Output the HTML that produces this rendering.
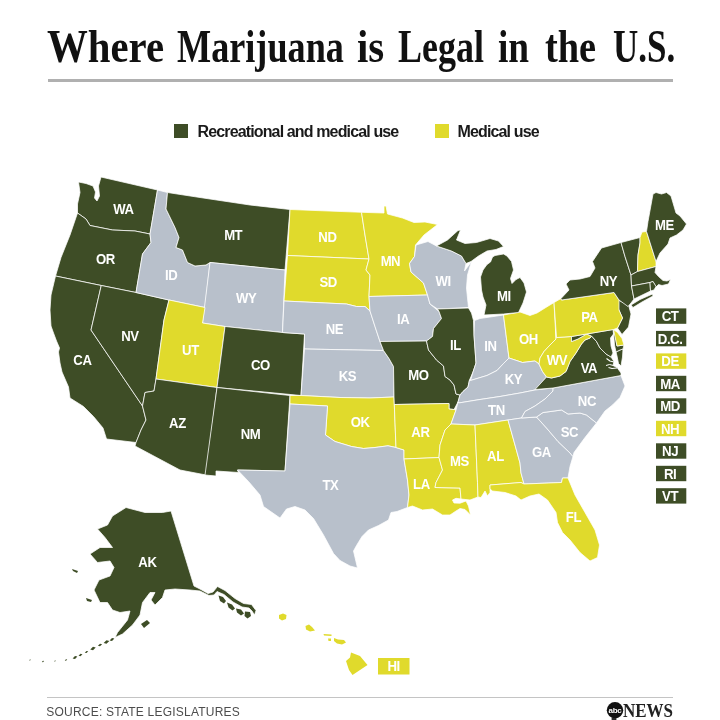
<!DOCTYPE html>
<html><head><meta charset="utf-8"><title>Where Marijuana is Legal in the U.S.</title>
<style>
html,body{margin:0;padding:0;background:#fff;}
body{width:720px;height:720px;position:relative;overflow:hidden;font-family:"Liberation Sans",sans-serif;}
h1{position:absolute;left:0;top:0;margin:0;width:720px;height:80px;font-family:"Liberation Serif",serif;font-weight:bold;font-size:47px;line-height:50px;color:#111;white-space:nowrap;}
h1 span{position:absolute;top:21px;display:block;transform-origin:0 0;}
.rule1{position:absolute;left:47.5px;top:79px;width:625.5px;height:2.6px;background:#b0b0b0;}
.rule2{position:absolute;left:47px;top:697px;width:626px;height:1px;background:#c4c4c4;}
.lg{position:absolute;top:122px;font-size:16px;line-height:19px;font-weight:bold;color:#1a1a1a;white-space:nowrap;letter-spacing:-0.86px;}
.sw{position:absolute;top:123.5px;width:14.5px;height:14.5px;}
.src{position:absolute;left:46.3px;top:704.8px;font-size:12px;line-height:15px;color:#4d4d4d;white-space:nowrap;letter-spacing:0.22px;}
.logo{position:absolute;}
svg{position:absolute;left:0;top:0;}
svg text{font-family:"Liberation Sans",sans-serif;font-weight:bold;fill:#fff;text-anchor:middle;}
</style></head><body>
<h1><span style="left:47.0px;transform:scaleX(0.868)">Where</span> <span style="left:177.0px;transform:scaleX(0.770)">Marijuana</span> <span style="left:356.9px;transform:scaleX(0.868)">is</span> <span style="left:398.0px;transform:scaleX(0.766)">Legal</span> <span style="left:497.9px;transform:scaleX(0.794)">in</span> <span style="left:545.0px;transform:scaleX(0.816)">the</span> <span style="left:612.9px;transform:scaleX(0.744)">U.S.</span></h1>
<div class="rule1"></div>
<div class="sw" style="left:173.5px;background:#3e4d26"></div><div class="lg" style="left:197.5px">Recreational and medical use</div>
<div class="sw" style="left:434.5px;background:#e0da2c"></div><div class="lg" style="left:457.5px">Medical use</div>

<svg width="720" height="720" viewBox="0 0 720 720">
<g stroke="#fff" stroke-width="0.75" stroke-linejoin="round">
<polygon fill="#3e4d26" points="78.5,182 86,183.5 93,186 95.5,192 94.5,198 97,201 99.5,196 98.5,186 101,177 157.5,190 150,234 135,231 112.5,230 90,225.5 86,219 77.5,213 77.5,204 80,192.5"/>
<polygon fill="#3e4d26" points="77.5,213 86,219 90,225.5 112.5,230 135,231 150,234 151,242.5 142.5,254 136,292.5 101.25,285.5 55.5,276 61,257.5 70,235"/>
<polygon fill="#3e4d26" points="55.5,276 101.25,285.5 91,330 142.5,406 146,420 141,430 136,442.5 106.5,439 103,428 93.5,416.5 83.5,406.5 70,398 68.5,387 62,372 60,363 58.5,352 59.5,348 56.5,341 53.5,333 51,326 50,310 51,295"/>
<polygon fill="#3e4d26" points="101.25,285.5 136,292.5 169,300 164,320 156,379 154,391 145,392.5 142.5,406 91,330"/>
<polygon fill="#b8c0cb" points="157.5,190 167.5,192.5 166,209 175,227.5 179,237.5 176,247.5 182.5,250 187.5,262.5 195,266 206,265 210,262.5 205,307.5 169,300 136,292.5 142.5,254 151,242.5 150,234"/>
<polygon fill="#3e4d26" points="167.5,192.5 200,197.5 250,205 290,209.5 285,270 210,262.5 206,265 195,266 187.5,262.5 182.5,250 176,247.5 179,237.5 175,227.5 166,209"/>
<polygon fill="#b8c0cb" points="210,262.5 285,270 282.5,332.5 225,326.5 202.5,323"/>
<polygon fill="#e0da2c" points="169,300 205,307.5 202.5,323 225,326.5 217,387.5 156,379 164,320"/>
<polygon fill="#3e4d26" points="225,326.5 282.5,332.5 304.5,334 301,395.5 217,387.5"/>
<polygon fill="#3e4d26" points="156,379 217,387.5 206,475 180,470 135,446 136,442.5 141,430 146,420 142.5,406 145,392.5 154,391"/>
<polygon fill="#3e4d26" points="217,387.5 290,395.5 285,471 237.5,470 238.5,472.5 216,471 216,476 205,475"/>
<polygon fill="#e0da2c" points="290,209.5 361.5,212.3 365,235 369,259 287.5,255.5"/>
<polygon fill="#e0da2c" points="287.5,255.5 369,259 366,270 370,275 369,296.5 370,311 365,306.5 356.5,306.5 346.5,304 284,301"/>
<polygon fill="#b8c0cb" points="284,301 346.5,304 356.5,306.5 365,306.5 370,311 375,326.5 380,341.5 383.5,350.5 304.5,349 304.5,334 282.5,332.5"/>
<polygon fill="#b8c0cb" points="304.5,349 383.5,350.5 389,358.5 393.5,366.5 394,397 370,398 340,397.5 301,395.5"/>
<polygon fill="#e0da2c" points="290,395.5 301,395.5 340,397.5 370,398 394,397 394.3,404.5 396,447.5 388,445.8 375,447.5 363.5,448.5 351.5,446.5 335,441.5 325.5,435 327.5,406 290,404"/>
<polygon fill="#b8c0cb" points="290,404 327.5,406 325.5,435 335,441.5 351.5,446.5 363.5,448.5 375,447.5 388,445.8 396,447.5 404,450 404,459 407.5,480 409,495 407.5,507.5 397,511.5 391,512.5 388.5,520 378.5,525.5 368.5,530 362,536.5 356.5,545.5 353.5,551 357.5,568 350,566 340,560.5 333.5,553.5 323.5,535 313.5,518.5 305,510 295,506.5 286.5,509 280,518 263.5,506.5 260,495 248.5,481.5 237.5,470 285,471"/>
<polygon fill="#e0da2c" points="361.5,212.3 384,213 384,206 386,206 387.5,214 402.5,218 414,222.5 425,222 437.5,224.5 424,235 415.5,245 414.5,256.5 409.5,263.5 411,272 423.5,283 427.5,295 369,296.5 370,275 366,270 369,259 365,235"/>
<polygon fill="#b8c0cb" points="369,296.5 427.5,295 430,304 439,311.5 441.5,318.5 433.5,328.5 432.5,336.5 426.5,341 380,341.5 375,326.5 370,311"/>
<polygon fill="#3e4d26" points="380,341.5 426.5,341 428.5,350 436.5,360 443.5,366 445,376.5 450,380 454,385 456,394 460,395 458,402 454,409.5 449,409 449,403.5 394.3,404.5 394,397 393.5,366.5 389,358.5 383.5,350.5"/>
<polygon fill="#e0da2c" points="394.3,404.5 449,403.5 449,409 454,409.5 456,410 451,424 445,430 440,445 439,457.5 404,459 404,450 396,447.5"/>
<polygon fill="#e0da2c" points="404,459 439,457.5 442.5,470 436,482.5 435,487.5 460,488 461,499 456,498.3 452.5,500 454,503 460,503.2 466,501 468.5,506 470.5,515 465,509.5 460,508.5 456,511 450,515 442.5,515 432.5,509 422.5,510 412.5,506 407.5,507.5 409,495 407.5,480"/>
<polygon fill="#b8c0cb" points="416,245 428,241.5 436.5,246 451.5,251 461.5,256 466,263.5 464.5,271 471.5,261.5 467.5,275 466.5,288 467.5,298 468.5,307.5 437.5,309 430,304 427.5,295 423.5,283 411,272 409.5,263.5 414.5,256.5"/>
<polygon fill="#3e4d26" points="437.5,309 468.5,308 471.5,313 473.5,320.5 474,335 476,363 473,372 469.5,380 468,387 463,391.5 460,395 456,394 454,385 450,380 445,376.5 443.5,366 436.5,360 428.5,350 426.5,341 432.5,336.5 433.5,328.5 441.5,318.5 439,311.5"/>
<polygon fill="#b8c0cb" points="474.5,320.5 480,318.5 503.5,315 509,358 503.5,363.5 497,370.5 487,375.5 470.5,380.5 473,372 476,363 474,335"/>
<polygon fill="#e0da2c" points="503.5,315 520,312 530,315.5 537,313 545,308 554,302.5 556,339 550,345 544,351.5 540,358 539,364 535,361 522.5,362.5 509,358"/>
<polygon fill="#3e4d26" points="436.5,246 447.5,240 458,230.5 460.5,230 456.5,240 465,243.5 476.5,242.5 490,238.5 498.5,241 503.5,246.5 496,249.5 487,251 478.5,256 471,261.5 466,263.5 461.5,256 451.5,251"/>
<polygon fill="#3e4d26" points="495,255.5 503.5,254 507,256 511.5,261.5 513.5,270 510.5,278.5 512,283.5 516,279.5 520,277.5 524,283 526.5,292 523,303 518.5,312.5 503.5,314 484,315 486,305 483,297 481.5,290 480.5,277 483,270 487,264.5 490.5,262 492.5,257"/>
<polygon fill="#b8c0cb" points="460,395 463,391.5 468,387 469.5,380 470.5,380.5 487,375.5 497,370.5 503.5,363.5 509,358 522.5,362.5 535,361 539,364 542.5,371.5 546.5,377 535,390 520,393 500,396.5 480,399.5 458.5,403 458,402"/>
<polygon fill="#b8c0cb" points="458.5,403 480,399.5 500,396.5 520,393 535,390 553,388 553,391 545,399 535,406 525,411.5 521.5,418 508,420 475,425 451,424 456,410 458,402"/>
<polygon fill="#e0da2c" points="451,424 475,425 477.5,482.5 478,497 470,500 461,499 460,488 435,487.5 436,482.5 442.5,470 439,457.5 440,445 445,430"/>
<polygon fill="#e0da2c" points="475,425 508,420 515,445 520,463 521,473 524,484 521,482.5 490,485 490,492.5 487.5,496 485,491 481,497.5 478,497 477.5,482.5"/>
<polygon fill="#b8c0cb" points="508,420 521.5,418 536.5,417 546.5,428 558,441.5 570,453 573,456.5 570,466.5 568,478 562.5,478 561.5,482.5 524,484 521,473 520,463 515,445"/>
<polygon fill="#e0da2c" points="490,485 521,482.5 524,484 561.5,482.5 562.5,478 568,478 575,495 585,512.5 595,530 599.5,545 597.5,557.5 590,561 580,552.5 570,540 562.5,532.5 557.5,522.5 556,512.5 547.5,500 539,494 530,496 521,500 516,496 505,492.5 492.5,491 490,489"/>
<polygon fill="#b8c0cb" points="536.5,417 543,412.5 561.5,410 568,414 580,413 586.5,415 596.5,423 585,437.5 574,452.5 573,456.5 570,453 558,441.5 546.5,428"/>
<polygon fill="#b8c0cb" points="553,388 621,375.5 625,386 620,397.5 612.5,405 605,411 596.5,423 586.5,415 580,413 568,414 561.5,410 543,412.5 536.5,417 521.5,418 525,411.5 535,406 545,399 553,391"/>
<polygon fill="#3e4d26" points="535,389.5 546.5,377 551.5,378 560,376 566,371.5 570,361.5 576,353 581.5,344 585,340 590,338 591.5,336 596.5,341.5 600,348 606,354 611,357 614,361.5 613,365.5 617,367.5 621,373 621,375.5 553,388"/>
<polygon fill="#3e4d26" points="616,352 620,350 623,349 622.5,357 621,366 618.5,363.5 617,356"/>
<polygon fill="#e0da2c" points="556,329 556,339 550,345 544,351.5 540,358 539,364 542.5,371.5 546.5,377 551.5,378 560,376 566,371.5 570,361.5 576,353 581.5,344 585,340 590,338 591.5,336 586.5,334 578,339 571.5,341.5 571.5,336.5 556.5,337.5"/>
<polygon fill="#3e4d26" points="571.5,336.5 613,329.5 613.5,334 610.5,338 611,346 613,353 611,357 606,354 600,348 596.5,341.5 591.5,336 586.5,334 578,339 571.5,341.5"/>
<polygon fill="#3e4d26" points="614.5,331 617,346 624,345 623,349 620,350 616,352 614.5,345 613.8,336"/>
<polygon fill="#e0da2c" points="613.5,329.5 617.5,332.5 622,338.5 624,345 617,346"/>
<polygon fill="#3e4d26" points="618,300 628.5,305 631,314 628.5,327 622,334.5 617.5,328 622.5,318 618.5,309"/>
<polygon fill="#e0da2c" points="556.5,337.5 554,302.5 561,298.5 561.5,300 614,292.5 619,300 619,310 622.5,318 617.5,328 613.5,329.5 571.5,336.5"/>
<polygon fill="#3e4d26" points="561.5,300 561,298.5 569,290 566,284 570,280 580,279 590,276.5 595,268 592.5,261.5 601.5,248 621,242.5 625,256.5 631,275 631.5,286 634,299 631,303 628,306.5 619,300 614,292.5"/>
<polygon fill="#3e4d26" points="631,305 640,299.5 652.5,294 653,296 642,302 633,307.5"/>
<polygon fill="#3e4d26" points="621,242.5 640,237.5 640,243 638,255 637.5,271.5 631,275 625,256.5"/>
<polygon fill="#e0da2c" points="642,232 646.5,231.5 656,261.5 656,266.5 637.5,271.5 638,255 640,243 640,237.5"/>
<polygon fill="#3e4d26" points="646.5,231.5 648,221.5 651,205 653,194 656,192.5 661.5,194 666.5,192.5 671,196 676,213 680,216 686.5,224 683,230 676.5,235 670,238 668,244 660,253 656,261.5"/>
<polygon fill="#3e4d26" points="631,275 637.5,271.5 656,266.5 655,272.5 658.5,276.5 663,280.5 667,281 670.5,279.5 668.5,284 662,285.5 658.5,284.5 656,287 653,281.5 650,282.5 631.5,286"/>
<polygon fill="#3e4d26" points="631.5,286 650,282.5 650.5,291 634,299"/>
<polygon fill="#3e4d26" points="650,282.5 653,281.5 656,286.5 654,290 650.5,291"/>
<polygon fill="#3e4d26" points="126,507.5 145,512.5 162.5,512.5 171,511 194,586 200,589 208,593.5 213,592 217.5,586.5 225,590.5 235,598.5 243.5,603.5 251.5,604.5 256,610.5 254.5,615 252,611 249,608 242,607 233,602 224,594.5 217,591.5 214,595 209,595.5 200,591 190,590 175,589 165,590 162.5,597.5 155,605 151,600 155,592.5 150,592.5 142.5,602.5 140,615 132.5,625 122.5,634 115,637.5 117.5,632.5 127.5,620 130,611 120,612.5 112.5,610 107.5,602.5 100,602.5 94,590 99,580 110,576 114,567.5 110,561 97.5,562.5 90,554 100,547.5 112.5,547.5 105,537.5 97.5,529 107.5,525 112.5,516"/>
<polyline points="614,362 610,361 606.5,358.5" fill="none" stroke-width="1.1"/><polyline points="613.5,365.5 609.5,364.5 606,365.5" fill="none" stroke-width="1"/><polyline points="617,368 612,368.5 608.5,367.5" fill="none" stroke-width="1.1"/>
</g><g>
<polygon fill="#3e4d26" points="72,569 78,571 77,573 73,571"/>
<polygon fill="#3e4d26" points="86,598 92,600 91,602 87,601"/>
<polygon fill="#3e4d26" points="141,624 147,620 150,623 144,628"/>
<polygon fill="#3e4d26" points="218.5,595.5 223,597 226,601 224,603.5 220,601"/>
<polygon fill="#3e4d26" points="227,602.5 232,604.5 235,608.5 232.5,610.5 228.5,607.5"/>
<polygon fill="#3e4d26" points="236,608.5 241,609.5 244,613.5 241,615.5 237,612.5"/>
<polygon fill="#3e4d26" points="245,611.5 250,612 251,616 247.5,618.5 244.5,616"/>
<polygon fill="#3e4d26" points="109.6,640.4 112,638.0 114.4,638.6 112,641.0"/>
<polygon fill="#3e4d26" points="103.62,643.08 106.5,640.2 109.38,640.92 106.5,643.8"/>
<polygon fill="#3e4d26" points="97.92,645.78 100,643.7 102.08,644.22 100,646.3"/>
<polygon fill="#3e4d26" points="90.28,649.52 93,646.8 95.72,647.48 93,650.2"/>
<polygon fill="#3e4d26" points="84.74,652.66 86.5,650.9 88.26,651.34 86.5,653.1"/>
<polygon fill="#3e4d26" points="78.58,655.72 80.5,653.8 82.42,654.28 80.5,656.2"/>
<polygon fill="#3e4d26" points="72.6,658.4 75,656.0 77.4,656.6 75,659.0"/>
<polygon fill="#3e4d26" points="64.72,660.48 66,659.2 67.28,659.52 66,660.8"/>
<polygon fill="#3e4d26" points="54.04,661.36 55,660.4 55.96,660.64 55,661.6"/>
<polygon fill="#3e4d26" points="41.88,661.92 43,660.8 44.12,661.08 43,662.2"/>
<polygon fill="#3e4d26" points="29.04,660.36 30,659.4 30.96,659.64 30,660.6"/>
<polygon fill="#e0da2c" points="279,615 283,613.5 286.5,615 286,619 282,620.5 279,618.5"/>
<polygon fill="#e0da2c" points="305.5,626 309,624.5 312,627 315,630.5 310,631.5 306,629.5"/>
<polygon fill="#e0da2c" points="323.5,634 331.5,634.5 331.5,636 324,635.5"/>
<polygon fill="#e0da2c" points="328,638.5 331,638.5 331,641 328.5,641"/>
<polygon fill="#e0da2c" points="334,638 338,639.5 344,640 346,642.5 342,644.5 337,643.5 334,641"/>
<polygon fill="#e0da2c" points="351,652.5 360,656 367.5,665 360,670 352.5,675 349,670 346,661 350,657.5"/>
</g>
<g font-size="14" letter-spacing="-0.5">
<text transform="translate(123.40,213.5) scale(0.94,1)">WA</text>
<text transform="translate(105.40,264.0) scale(0.94,1)">OR</text>
<text transform="translate(82.40,364.5) scale(0.94,1)">CA</text>
<text transform="translate(129.90,340.5) scale(0.94,1)">NV</text>
<text transform="translate(171.15,280.0) scale(0.94,1)">ID</text>
<text transform="translate(233.15,240.0) scale(0.94,1)">MT</text>
<text transform="translate(246.15,302.5) scale(0.94,1)">WY</text>
<text transform="translate(190.40,355.0) scale(0.94,1)">UT</text>
<text transform="translate(260.40,369.5) scale(0.94,1)">CO</text>
<text transform="translate(177.40,428.0) scale(0.94,1)">AZ</text>
<text transform="translate(250.40,439.0) scale(0.94,1)">NM</text>
<text transform="translate(327.40,241.5) scale(0.94,1)">ND</text>
<text transform="translate(328.15,287.0) scale(0.94,1)">SD</text>
<text transform="translate(334.40,333.5) scale(0.94,1)">NE</text>
<text transform="translate(347.40,381.0) scale(0.94,1)">KS</text>
<text transform="translate(360.15,427.0) scale(0.94,1)">OK</text>
<text transform="translate(330.40,490.0) scale(0.94,1)">TX</text>
<text transform="translate(390.40,266.0) scale(0.94,1)">MN</text>
<text transform="translate(403.15,323.5) scale(0.94,1)">IA</text>
<text transform="translate(418.40,380.0) scale(0.94,1)">MO</text>
<text transform="translate(420.40,437.0) scale(0.94,1)">AR</text>
<text transform="translate(421.40,489.0) scale(0.94,1)">LA</text>
<text transform="translate(443.15,285.5) scale(0.94,1)">WI</text>
<text transform="translate(455.40,350.0) scale(0.94,1)">IL</text>
<text transform="translate(490.40,350.5) scale(0.94,1)">IN</text>
<text transform="translate(528.40,344.0) scale(0.94,1)">OH</text>
<text transform="translate(503.90,301.0) scale(0.94,1)">MI</text>
<text transform="translate(513.40,384.0) scale(0.94,1)">KY</text>
<text transform="translate(496.40,415.0) scale(0.94,1)">TN</text>
<text transform="translate(459.40,466.0) scale(0.94,1)">MS</text>
<text transform="translate(495.40,461.0) scale(0.94,1)">AL</text>
<text transform="translate(541.40,457.0) scale(0.94,1)">GA</text>
<text transform="translate(573.40,522.0) scale(0.94,1)">FL</text>
<text transform="translate(569.40,437.0) scale(0.94,1)">SC</text>
<text transform="translate(586.90,406.0) scale(0.94,1)">NC</text>
<text transform="translate(588.90,373.0) scale(0.94,1)">VA</text>
<text transform="translate(556.90,365.0) scale(0.94,1)">WV</text>
<text transform="translate(589.40,322.0) scale(0.94,1)">PA</text>
<text transform="translate(608.40,285.5) scale(0.94,1)">NY</text>
<text transform="translate(664.40,230.0) scale(0.94,1)">ME</text>
<text transform="translate(147.40,567.0) scale(0.94,1)">AK</text>
</g>
<g font-size="14" letter-spacing="-0.5">
<rect x="656" y="308.4" width="30.3" height="15.4" fill="#3e4d26"/>
<text transform="translate(670.1,321.3) scale(0.95,1)">CT</text>
<rect x="656" y="330.9" width="30.3" height="15.4" fill="#3e4d26"/>
<text transform="translate(670.1,343.8) scale(0.95,1)">D.C.</text>
<rect x="656" y="353.4" width="30.3" height="15.4" fill="#e0da2c"/>
<text transform="translate(670.1,366.3) scale(0.95,1)">DE</text>
<rect x="656" y="375.8" width="30.3" height="15.4" fill="#3e4d26"/>
<text transform="translate(670.1,388.7) scale(0.95,1)">MA</text>
<rect x="656" y="398.3" width="30.3" height="15.4" fill="#3e4d26"/>
<text transform="translate(670.1,411.2) scale(0.95,1)">MD</text>
<rect x="656" y="420.8" width="30.3" height="15.4" fill="#e0da2c"/>
<text transform="translate(670.1,433.7) scale(0.95,1)">NH</text>
<rect x="656" y="443.3" width="30.3" height="15.4" fill="#3e4d26"/>
<text transform="translate(670.1,456.2) scale(0.95,1)">NJ</text>
<rect x="656" y="465.8" width="30.3" height="15.4" fill="#3e4d26"/>
<text transform="translate(670.1,478.7) scale(0.95,1)">RI</text>
<rect x="656" y="488.2" width="30.3" height="15.4" fill="#3e4d26"/>
<text transform="translate(670.1,501.1) scale(0.95,1)">VT</text>
<rect x="378" y="658" width="31.5" height="16.5" fill="#e0da2c"/><text transform="translate(393.6,671.4) scale(0.95,1)">HI</text>
</g>
</svg>
<div class="rule2"></div>
<div class="src">SOURCE: STATE LEGISLATURES</div>
<svg class="logo" style="left:600px;top:696px" width="80" height="24" viewBox="600 696 80 24">
<circle cx="615" cy="710.2" r="8.2" fill="#111"/><rect x="611.6" y="718" width="4.8" height="2" fill="#2a2a2a"/>
<text x="615" y="712.9" font-size="8" style="font-family:'Liberation Sans',sans-serif;font-weight:bold;fill:#fff;text-anchor:middle;letter-spacing:-0.3px">abc</text>
<text x="623" y="716.5" font-size="19" textLength="50" lengthAdjust="spacingAndGlyphs" style="font-family:'Liberation Serif',serif;font-weight:bold;fill:#222;text-anchor:start;">NEWS</text>
</svg>
</body></html>
